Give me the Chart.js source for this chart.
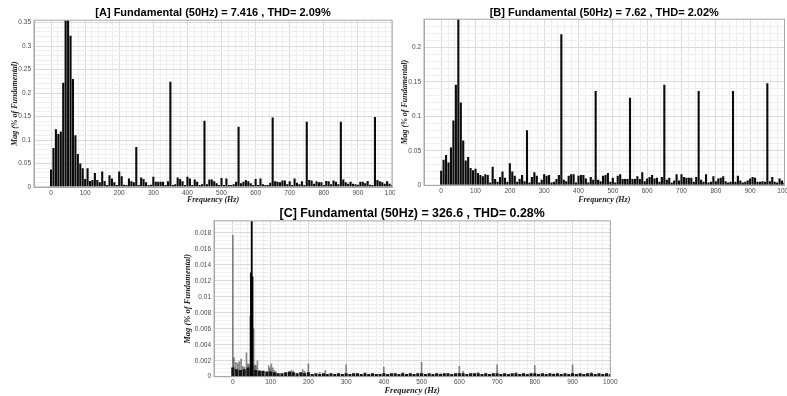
<!DOCTYPE html>
<html>
<head>
<meta charset="utf-8">
<title>FFT analysis</title>
<script src="https://cdn.jsdelivr.net/npm/chart.js@4.4.1/dist/chart.umd.min.js"></script>
<style>
  body { margin: 0; background: #fff; }
  canvas { position: absolute; }
  #fftA { left: 0; top: 0; }
  #fftB { left: 395px; top: 0; }
  #fftC { left: 160px; top: 200px; }
</style>
</head>
<body>
<canvas id="fftA" width="395" height="205"></canvas>
<canvas id="fftB" width="392" height="205"></canvas>
<canvas id="fftC" width="470" height="196"></canvas>
<script>
// A and B records: one bar per FFT bin, 7 bins per 50 Hz
const binHz = 50 / 7;
const freqTicks = [0, 100, 200, 300, 400, 500, 600, 700, 800, 900, 1000];

// harmonic magnitudes, % of fundamental (fundamental bin = 100)
const aMag = [
  0.037, 0.083, 0.123, 0.113, 0.118, 0.222, 0.40,
  100, 0.322, 0.23, 0.11, 0.07, 0.05, 0.04,
  0.017, 0.04, 0.013, 0.015, 0.03, 0.015, 0.01,
  0.033, 0.013, 0.004, 0.025, 0.018, 0.01, 0.004,
  0.033, 0.023, 0.005, 0.004, 0.018, 0.012, 0.01,
  0.085, 0.004, 0.02, 0.017, 0.01, 0.004, 0.005,
  0.022, 0.011, 0.011, 0.011, 0.011, 0.004, 0.012,
  0.224, 0.004, 0.006, 0.02, 0.017, 0.012, 0.004,
  0.022, 0.018, 0.004, 0.016, 0.011, 0.004, 0.006,
  0.141, 0.006, 0.016, 0.016, 0.012, 0.008, 0.004,
  0.019, 0.004, 0.018, 0.004, 0.004, 0.006, 0.011,
  0.128, 0.008, 0.011, 0.015, 0.012, 0.008, 0.004,
  0.017, 0.004, 0.018, 0.006, 0.004, 0.004, 0.009,
  0.148, 0.012, 0.011, 0.01, 0.014, 0.014, 0.006,
  0.012, 0.004, 0.018, 0.009, 0.006, 0.012, 0.004,
  0.139, 0.015, 0.014, 0.007, 0.012, 0.01, 0.01,
  0.004, 0.013, 0.012, 0.006, 0.014, 0.011, 0.006,
  0.139, 0.016, 0.01, 0.007, 0.011, 0.007, 0.006,
  0.005, 0.011, 0.011, 0.008, 0.013, 0.005, 0.004,
  0.149, 0.015, 0.012, 0.01, 0.007, 0.012, 0.007,
  0.004
];
const bMag = [
  0.021, 0.037, 0.044, 0.033, 0.055, 0.094, 0.146,
  100, 0.12, 0.065, 0.036, 0.041, 0.025, 0.022,
  0.024, 0.018, 0.015, 0.013, 0.016, 0.015, 0.004,
  0.027, 0.009, 0.005, 0.012, 0.02, 0.011, 0.005,
  0.032, 0.02, 0.014, 0.005, 0.009, 0.015, 0.006,
  0.08, 0.004, 0.012, 0.019, 0.014, 0.004, 0.008,
  0.016, 0.014, 0.015, 0.004, 0.005, 0.009, 0.015,
  0.219, 0.008, 0.006, 0.014, 0.016, 0.016, 0.004,
  0.014, 0.015, 0.015, 0.01, 0.004, 0.012, 0.008,
  0.137, 0.008, 0.006, 0.014, 0.015, 0.018, 0.005,
  0.011, 0.004, 0.014, 0.016, 0.009, 0.009, 0.009,
  0.127, 0.009, 0.009, 0.013, 0.009, 0.019, 0.006,
  0.01, 0.012, 0.015, 0.01, 0.011, 0.005, 0.012,
  0.146, 0.008, 0.011, 0.004, 0.007, 0.016, 0.007,
  0.016, 0.012, 0.011, 0.011, 0.011, 0.005, 0.012,
  0.137, 0.008, 0.005, 0.016, 0.004, 0.005, 0.013,
  0.006, 0.01, 0.011, 0.013, 0.006, 0.004, 0.005,
  0.137, 0.005, 0.014, 0.007, 0.004, 0.005, 0.007,
  0.01, 0.012, 0.011, 0.005, 0.005, 0.006, 0.005,
  0.148, 0.006, 0.012, 0.005, 0.004, 0.01, 0.007,
  0.004
];

// C record: noise floor every 10 Hz, plus isolated lines and the 50 Hz cluster
const cFloorMag = [
  0.0011, 0.0009, 0.0008, 0.0009, 0.0011, 0.0012, 0.0008, 0.0007, 0.0007, 0.0006,
  0.0006, 0.0005, 0.0004, 0.0004, 0.0005, 0.0006, 0.0005, 0.0004, 0.0005, 0.0004,
  0.0005, 0.0003, 0.0004, 0.0003, 0.0004, 0.0003, 0.0004, 0.0003, 0.0004, 0.0003,
  0.0004, 0.0003, 0.0004, 0.0004, 0.0003, 0.0004, 0.0003, 0.0004, 0.0003, 0.0003,
  0.0004, 0.0003, 0.0004, 0.0004, 0.0003, 0.0004, 0.0003, 0.0004, 0.0003, 0.0004,
  0.0004, 0.0003, 0.0004, 0.0003, 0.0004, 0.0003, 0.0004, 0.0004, 0.0003, 0.0004,
  0.0004, 0.0004, 0.0003, 0.0004, 0.0004, 0.0004, 0.0003, 0.0004, 0.0003, 0.0004,
  0.0004, 0.0003, 0.0004, 0.0003, 0.0004, 0.0004, 0.0003, 0.0004, 0.0003, 0.0004,
  0.0004, 0.0003, 0.0004, 0.0003, 0.0004, 0.0003, 0.0004, 0.0003, 0.0004, 0.0003,
  0.0004, 0.0003, 0.0004, 0.0003, 0.0004, 0.0004, 0.0003, 0.0004, 0.0003, 0.0004,
  0.0003
];
const cLineFreq = [0, 3, 8, 13, 17, 22, 26, 30, 36, 40, 43, 46, 55, 58, 61, 65, 70, 75, 80,
  95, 98, 102, 106, 110, 115, 155, 160, 185, 190, 200, 230, 245, 300, 350, 400, 450,
  500, 550, 600, 610, 650, 700, 750, 800, 850, 900, 950];
const cLineMag = [0.0177, 0.0024, 0.0018, 0.0017, 0.0019, 0.0022, 0.0013, 0.0012, 0.003, 0.0016,
  0.0015, 0.0076, 0.006, 0.0015, 0.0014, 0.002, 0.0008, 0.0007, 0.0006,
  0.0014, 0.0011, 0.0016, 0.0011, 0.0008, 0.0006, 0.0008, 0.0007, 0.0009, 0.0007,
  0.0016, 0.0005, 0.0008, 0.0015, 0.0005, 0.0012, 0.0005,
  0.0018, 0.0004, 0.0013, 0.0007, 0.0005, 0.0015, 0.0005, 0.0014, 0.0004, 0.0015, 0.0005];
const cPeakFreq = [48, 50, 52];
const cPeakMag = [0.013, 100, 0.0125];

const aMagTicks = [0, 0.05, 0.1, 0.15, 0.2, 0.25, 0.3, 0.35];
const bMagTicks = [0, 0.05, 0.1, 0.15, 0.2];
const cMagTicks = [0, 0.002, 0.004, 0.006, 0.008, 0.01, 0.012, 0.014, 0.016, 0.018];

const BAR = '#0b0b0b';
const FRAME = '#a8a8a8';
const GRID_MAJOR = '#dadada';
const GRID_MINOR = '#efefef';
const TICK = '#4a4a4a';

function isMajor(value, majors) {
  return majors.some(m => Math.abs(m - value) < 1e-9);
}

function majorLabel(majors) {
  return (value) => isMajor(value, majors) ? String(value) : '';
}

function gridColor(majors) {
  return (ctx) => ctx.tick && isMajor(ctx.tick.value, majors) ? GRID_MAJOR : GRID_MINOR;
}

// keep only the regular grid steps from 0 upwards
function keepSteps(step) {
  return (scale) => {
    scale.ticks = scale.ticks.filter(t => {
      const n = t.value / step;
      return t.value > -1e-12 && Math.abs(n - Math.round(n)) < 1e-6;
    });
  };
}

function points(xs, ys) {
  return ys.map((y, i) => ({ x: xs[i], y: y }));
}

function binPoints(mags, width) {
  return mags.map((m, i) => ({ x: i * width, y: m }));
}

// axes box drawn around the plot area
const frame = {
  id: 'frame',
  afterDraw(chart) {
    const { ctx, chartArea: a } = chart;
    ctx.save();
    ctx.strokeStyle = FRAME;
    ctx.lineWidth = 1;
    ctx.strokeRect(a.left, a.top, a.right - a.left, a.bottom - a.top);
    ctx.restore();
  }
};

function spectrumChart(id, spec) {
  const tickFont = { family: 'Liberation Sans', size: 6.5 };
  const labelFont = { family: 'Liberation Serif', size: spec.labelSize, style: 'italic', weight: 'bold' };
  return new Chart(document.getElementById(id), {
    type: 'bar',
    data: { datasets: spec.datasets },
    options: {
      responsive: false,
      animation: false,
      layout: { padding: { top: 0, left: 0, bottom: 0, right: spec.padRight } },
      plugins: {
        legend: { display: false },
        tooltip: { enabled: false },
        title: {
          display: true,
          text: spec.title,
          fullSize: false,
          color: '#000',
          font: { family: 'Liberation Sans', size: spec.titleSize, weight: 'bold' },
          padding: { top: spec.titleTop, bottom: spec.titleBottom }
        }
      },
      scales: {
        x: {
          type: 'linear',
          min: -50,
          max: 1000,
          offset: false,
          grid: { offset: false, drawTicks: false, color: gridColor(freqTicks) },
          border: { color: FRAME },
          ticks: {
            stepSize: 20, includeBounds: false, autoSkip: false, maxRotation: 0, padding: spec.xTickPad,
            color: TICK, font: tickFont, callback: majorLabel(freqTicks)
          },
          afterBuildTicks: keepSteps(20),
          afterFit: (s) => { s.height = spec.xHeight; s.paddingLeft = 0; s.paddingRight = 0; },
          title: { display: true, text: 'Frequency (Hz)', color: '#1a1a1a', font: labelFont, padding: 0 }
        },
        y: {
          min: 0,
          max: spec.yMax,
          grid: { drawTicks: false, color: gridColor(spec.yTicks) },
          border: { color: FRAME },
          ticks: {
            stepSize: spec.yMinor, includeBounds: false, autoSkip: false, padding: 3,
            color: TICK, font: tickFont, callback: majorLabel(spec.yTicks)
          },
          afterBuildTicks: keepSteps(spec.yMinor),
          afterFit: (s) => { s.width = spec.yWidth; s.paddingTop = 0; s.paddingBottom = 0; },
          title: {
            display: true, text: 'Mag (% of Fundamental)', color: '#1a1a1a', font: labelFont,
            padding: { top: spec.yTitlePad, bottom: 0 }
          }
        }
      }
    },
    plugins: [frame]
  });
}

spectrumChart('fftA', {
  title: '[A] Fundamental (50Hz) = 7.416 , THD= 2.09%',
  titleSize: 11, titleTop: 6, titleBottom: 1,
  labelSize: 8, padRight: 3, xHeight: 18, xTickPad: 2,
  yWidth: 34, yTitlePad: 10, yMax: 0.355, yMinor: 0.01, yTicks: aMagTicks,
  datasets: [{
    data: binPoints(aMag, binHz), backgroundColor: BAR,
    barPercentage: 0.86, categoryPercentage: 1
  }]
});

spectrumChart('fftB', {
  title: '[B] Fundamental (50Hz) = 7.62 , THD= 2.02%',
  titleSize: 11, titleTop: 6, titleBottom: 0,
  labelSize: 8, padRight: 2.5, xHeight: 19.7, xTickPad: 2.5,
  yWidth: 29, yTitlePad: 5, yMax: 0.241, yMinor: 0.01, yTicks: bMagTicks,
  datasets: [{
    data: binPoints(bMag, binHz), backgroundColor: BAR,
    barPercentage: 0.86, categoryPercentage: 1
  }]
});

spectrumChart('fftC', {
  title: '[C] Fundamental (50Hz) = 326.6 , THD= 0.28%',
  titleSize: 12.4, titleTop: 6, titleBottom: 0,
  labelSize: 8.5, padRight: 19.7, xHeight: 19.3, xTickPad: 2,
  yWidth: 54, yTitlePad: 23, yMax: 0.0195, yMinor: 0.0005, yTicks: cMagTicks,
  datasets: [
    { data: points(cPeakFreq, cPeakMag), backgroundColor: '#000', barThickness: 1.2, grouped: false },
    { data: binPoints(cFloorMag, 10), backgroundColor: '#151515', barThickness: 2.5, grouped: false },
    { data: points(cLineFreq, cLineMag), backgroundColor: 'rgba(0,0,0,0.45)', barThickness: 1, grouped: false }
  ]
});
</script>
</body>
</html>
